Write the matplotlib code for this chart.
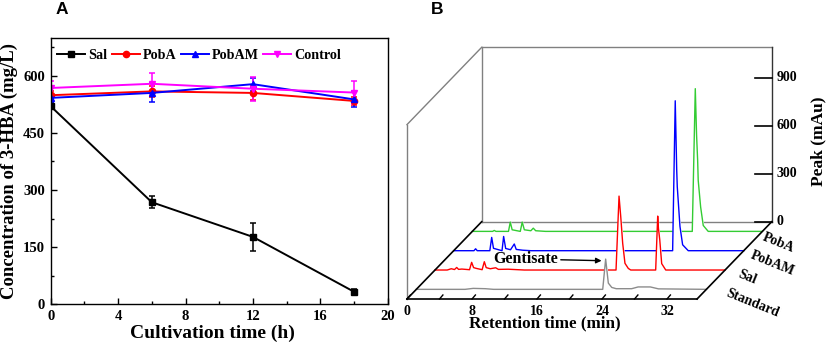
import numpy as np
import matplotlib.pyplot as plt
from matplotlib.ticker import MultipleLocator

plt.rcParams['font.family'] = ['Liberation Serif', 'DejaVu Serif']
plt.rcParams['font.weight'] = 'bold'
plt.rcParams['axes.labelweight'] = 'bold'

# ---- panel A data ----
TIME_H = [0, 6, 12, 18]
SAL = [520, 268, 177, 33]
SAL_ERR = [8, 16, 37, 7]
POBA = [549, 559, 555, 534]
POBA_ERR = [10, 15, 18, 10]
POBAM = [542, 555, 578, 538]
POBAM_ERR = [10, 25, 17, 21]
CONTROL = [568, 579, 566, 556]
CONTROL_ERR = [18, 29, 31, 30]

# ---- panel B data (retention time in min, signal in mAu) ----
STD_T = [0, 6.0, 7.0, 8.5, 9.5, 22.94, 23.3, 23.63, 24.05, 24.6, 26.5, 27.3, 28.8, 29.8, 35.7]
STD_H = [0, 0, 6, 4, 0, 0, 189, 39, 12, 4, 4, 15, 15, 3, 0]
SAL_T = [0, 1.5, 2.0, 2.4, 2.67, 2.9, 3.3, 4.25, 4.51, 4.75, 5.1, 5.8, 6.07, 6.3, 6.8, 7.47, 7.8,
         9.0, 11.0, 22.28, 22.65, 22.86, 23.1, 23.38, 23.79, 24.09, 27.16, 27.41, 27.5, 27.66,
         27.9, 28.4, 35.7]
SAL_H = [0, 0, 8, 3, 16, 4, 6, 2, 48, 15, 10, 2, 52, 15, 8, 14, 4,
         5, 0, 0, 462, 334, 167, 42, 10, 0, 0, 337, 260, 190,
         40, 0, 0]
POBAM_T = [0, 2.5, 2.7, 2.9, 4.45, 4.68, 4.9, 5.6, 5.95, 6.15, 6.4, 7.0, 7.46, 7.7, 8.5, 9.5,
           26.95, 27.27, 27.45, 27.52, 27.85, 28.18, 28.87, 35.7]
POBAM_H = [0, 0, 12, 0, 0, 83, 15, 5, 0, 89, 14, 6, 42, 8, 3, 0,
           0, 937, 506, 400, 152, 37, 0, 0]
POBA_T = [0, 2.5, 2.7, 2.9, 4.45, 4.67, 4.9, 5.9, 6.14, 6.4, 7.2, 7.5, 7.8, 9.0,
          27.07, 27.44, 27.6, 27.73, 27.8, 28.1, 28.42, 29.03, 35.7]
POBA_H = [0, 0, 6, 0, 0, 58, 10, 0, 58, 10, 4, 20, 4, 0,
          0, 892, 600, 444, 319, 152, 37, 0, 0]

SAMPLES = ['Standard', 'Sal', 'PobAM', 'PobA']
SAMPLE_T = [STD_T, SAL_T, POBAM_T, POBA_T]
SAMPLE_H = [STD_H, SAL_H, POBAM_H, POBA_H]
SAMPLE_COLORS = ['#8c8c8c', '#ff0000', '#0000ff', '#33cc33']
PEAK_TICKS = [0, 300, 600, 900]
RT_TICKS = [0, 8, 16, 24, 32]

fig = plt.figure(figsize=(8.29, 3.5), dpi=100)

# ================= panel A =================
axA = fig.add_axes([50.7 / 829, 45.7 / 350, 337 / 829, 266.6 / 350])
handles = []
for vals, err, col, mk, name in [
        (SAL, SAL_ERR, 'black', 's', 'Sal'),
        (POBA, POBA_ERR, '#ff0000', 'o', 'PobA'),
        (POBAM, POBAM_ERR, '#0000ff', '^', 'PobAM'),
        (CONTROL, CONTROL_ERR, '#ff00ff', 'v', 'Control')]:
    c = axA.errorbar(TIME_H, vals, yerr=err, color=col, marker=mk, ms=4.5, lw=1.4,
                     capsize=2.5, elinewidth=1.1, capthick=1.1)
    handles.append((c[0], name))

axA.legend([h for h, _ in handles], [n for _, n in handles], loc='upper left', ncol=4,
           bbox_to_anchor=(0.0104, 0.968), frameon=False, handlelength=2.0,
           columnspacing=0.3, handletextpad=0.2, borderaxespad=0, fontsize=10.2,
           borderpad=0.2)
axA.set_xlim(0, 20)
axA.set_ylim(0, 700)
axA.xaxis.set_major_locator(MultipleLocator(4))
axA.xaxis.set_minor_locator(MultipleLocator(2))
axA.yaxis.set_minor_locator(MultipleLocator(75))
axA.set_yticks([0, 150, 300, 450, 600])
axA.tick_params(which='major', direction='in', length=4, width=1, labelsize=10.5, pad=4)
axA.tick_params(which='minor', direction='in', length=2.5, width=1)
for s in axA.spines.values():
    s.set_linewidth(1)
axA.set_xlabel('Cultivation time (h)', fontsize=14)
axA.xaxis.set_label_coords(0.48, -0.075)
axA.set_ylabel('Concentration of 3-HBA (mg/L)', fontsize=13.5)
axA.yaxis.set_label_coords(-0.096, 0.5)
fig.text(62 / 829, 1 - 10 / 350, 'A', family='Liberation Sans', weight='bold',
         fontsize=12.5, ha='center', va='center')

# ================= panel B (pseudo-3D waterfall) =================
PX_X = 8.125      # px per minute
PX_Y = 0.16       # px per mAu
X_LEN = 35.7
DEPTH_X = 9.19
DEPTH_Y = 483
WALL_H = 1090
DEPTHS = [0.125, 0.375, 0.625, 0.875]

axB = fig.add_axes([400 / 829, 0, 429 / 829, 1])
axB.set_xlim(-7 / PX_X, 422 / PX_X)
axB.set_ylim(-51 / PX_Y, 299 / PX_Y)
axB.axis('off')

gray = '#808080'
bx0, bx1 = DEPTH_X, X_LEN + DEPTH_X
axB.plot([0, 0], [0, WALL_H], color=gray, lw=1)
axB.plot([0, DEPTH_X], [WALL_H, WALL_H + DEPTH_Y], color=gray, lw=1)
axB.plot([bx0, bx0], [DEPTH_Y, DEPTH_Y + WALL_H], color=gray, lw=1)
axB.plot([bx0, bx1], [DEPTH_Y + WALL_H] * 2, color=gray, lw=1)
axB.plot([bx0, bx1], [DEPTH_Y] * 2, color=gray, lw=1)
axB.plot([bx1, bx1], [DEPTH_Y, DEPTH_Y + WALL_H], color='#333333', lw=1)
axB.plot([0, X_LEN], [0, 0], color='k', lw=1.2, zorder=20)
axB.plot([0, DEPTH_X], [0, DEPTH_Y], color='k', lw=1.2, zorder=20)
axB.plot([X_LEN, bx1], [0, DEPTH_Y], color='k', lw=1.2, zorder=20)

# right (peak) axis
for v in PEAK_TICKS:
    axB.plot([bx1 - 17 / PX_X, bx1], [DEPTH_Y + v] * 2, color='k', lw=1.2)
    axB.text(bx1 + 5 / PX_X, DEPTH_Y + v, str(v), ha='left', va='center', fontsize=10)
fig.text(818 / 829, 1 - 141 / 350, 'Peak (mAu)', rotation=90, ha='center', va='center',
         fontsize=12.5)

# front (retention time) axis
for t in np.arange(0, 33, 4):
    axB.plot([t, t + 3.4 / PX_X], [0, 4 / PX_Y], color='k', lw=1, zorder=20)
for t in RT_TICKS:
    axB.text(t, -12.5 / PX_Y, str(t), ha='center', va='center', fontsize=10)
axB.text(17.0, -24 / PX_Y, 'Retention time (min)', ha='center', va='center', fontsize=12.3)

# traces, back to front
for i in range(len(SAMPLES) - 1, -1, -1):
    f = DEPTHS[i]
    x = np.array(SAMPLE_T[i]) + f * DEPTH_X
    y = np.array(SAMPLE_H[i]) + f * DEPTH_Y
    z = 5 + (len(SAMPLES) - i)
    axB.fill_between(x, f * DEPTH_Y, y, color='white', zorder=z)
    axB.plot(x, y, color=SAMPLE_COLORS[i], lw=1.0, zorder=z + 0.5)
    # sample label along the right floor edge
    px = 726.7 + (f - 0.125) / 0.75 * 36.6
    py = 292.3 - (f - 0.125) / 0.75 * 55.6
    axB.text((px - 407) / PX_X, (299 - py) / PX_Y, SAMPLES[i], rotation=-22,
             rotation_mode='anchor', ha='left', va='center', fontsize=10)

# gentisate arrow to the standard peak
f0 = DEPTHS[0]
ipk = int(np.argmax(STD_H))
tip = (STD_T[ipk] + f0 * DEPTH_X - 0.5, STD_H[ipk] + f0 * DEPTH_Y - 10)
axB.annotate('Gentisate', xy=tip, xytext=((558 - 407) / PX_X, (299 - 259) / PX_Y),
             ha='right', va='center', fontsize=11.5, zorder=30,
             arrowprops=dict(arrowstyle='-|>', color='k', lw=1, mutation_scale=8,
                             shrinkA=0, shrinkB=0))

fig.text(437 / 829, 1 - 10 / 350, 'B', family='Liberation Sans', weight='bold',
         fontsize=12.5, ha='center', va='center')

fig.savefig('out.png', dpi=100)
